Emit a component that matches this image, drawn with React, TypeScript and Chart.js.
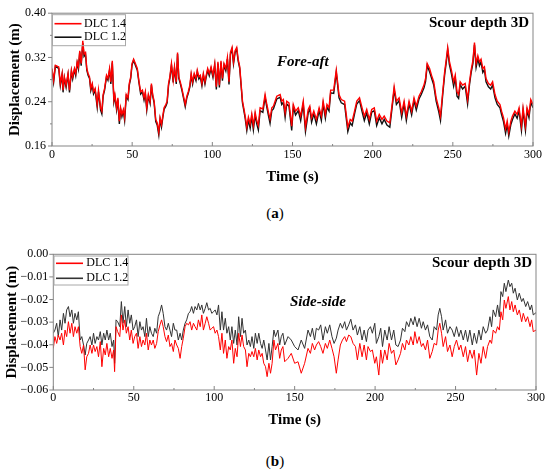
import { useEffect, useRef } from "react";
import { Chart, registerables } from "chart.js";

Chart.register(...registerables);

const serif = "'Liberation Serif', 'Times New Roman', serif";
Chart.defaults.font.family = serif;
Chart.defaults.color = "#000";

// ---------- data ----------
const seriesNames = ["DLC 1.4", "DLC 1.2"];
const timeTicks = [0, 50, 100, 150, 200, 250, 300];
const foreTicks = [0.16, 0.24, 0.32, 0.4];
const sideTicks = [-0.06, -0.05, -0.04, -0.03, -0.02, -0.01, 0];

// (a) fore-aft
const foreTime = [
  0, 1.0, 2.1, 4.2, 5.2, 6.3, 6.9, 7.7, 8.8, 10.0,
  10.9, 12.1, 12.9, 14.0, 14.8, 15.7, 16.5, 17.3, 18.2, 19.2,
  20.0, 20.9, 21.7, 22.5, 23.4, 24.2, 25.1, 25.9, 26.9, 28.2,
  29.0, 30.3, 31.1, 31.9, 32.8, 34.0, 34.9, 35.9, 36.7, 37.6,
  38.6, 39.2, 40.3, 41.1, 42.0, 42.8, 43.6, 44.5, 45.3, 46.3,
  47.4, 48.2, 49.1, 49.9, 50.9, 52.0, 53.2, 54.3, 55.3, 56.4,
  57.4, 58.2, 59.1, 60.1, 61.2, 62.0, 62.8, 63.7, 64.7, 65.6,
  66.6, 67.4, 68.3, 69.1, 69.9, 71.0, 71.8, 72.7, 73.5, 74.5,
  75.6, 76.4, 77.5, 78.3, 79.1, 80.0, 81.0, 82.0, 83.1, 84.1,
  85.0, 86.0, 86.8, 87.7, 88.7, 89.8, 90.6, 91.6, 92.5, 93.5,
  94.4, 95.4, 96.2, 97.1, 98.1, 99.2, 100.4, 101.5, 102.5, 103.5,
  104.4, 105.4, 106.3, 107.3, 108.4, 109.4, 110.4, 111.3, 112.3, 113.2,
  114.2, 115.2, 116.1, 117.1, 118.0, 118.8, 119.6, 120.5, 121.5,
  122.5, 123.6, 124.6, 125.6, 126.7, 127.7, 128.7, 129.8, 131.5, 132.9,
  134.0, 135.0, 136.0, 137.1, 138.1,
  140.2, 142.3, 143.3, 144.3, 145.4, 146.4, 147.8, 149.5, 150.5, 151.9,
  153.6, 155.1, 156.7, 158.1, 159.8, 160.8, 161.9, 163.3, 164.9, 166.6,
  168.0, 169.1, 170.5, 171.5, 172.8, 173.8, 175.7, 177.3, 179.0, 180.4,
  182.5, 184.5, 186.0, 187.2, 188.7, 190.1, 191.8, 193.4, 194.8, 196.3,
  197.9, 199.4, 201.0, 202.5, 204.1, 205.8, 207.2, 208.9, 210.7, 212.4,
  213.4, 214.8, 216.5, 218.1, 219.6, 221.0, 222.7, 224.3, 225.8, 227.2,
  228.9, 230.3, 232.0, 233.0, 234.0, 235.5, 236.7, 238.1, 239.6, 241.2,
  242.3, 243.7, 244.9, 245.8, 246.8, 247.8, 249.1, 250.5, 251.5, 252.6,
  253.6, 254.6, 256.1, 257.7, 259.2, 260.4, 261.4, 262.5, 263.5, 264.5,
  265.6, 266.6, 267.6, 268.7, 269.7, 270.7, 272.2, 273.6, 274.8, 276.3,
  277.7, 279.4, 280.4, 281.6, 282.9, 283.9, 284.9, 286.2, 287.2, 288.7,
  290.1, 291.3, 292.8, 293.8, 295.3, 296.3, 297.5, 298.6, 300,
];

const foreDlc14 = [
  0.300, 0.279, 0.306, 0.303, 0.273, 0.291, 0.261, 0.285, 0.270, 0.291,
  0.261, 0.297, 0.285, 0.300, 0.291, 0.312, 0.303, 0.332, 0.309, 0.350,
  0.326, 0.329, 0.300, 0.291, 0.285, 0.264, 0.273, 0.258, 0.264, 0.235,
  0.261, 0.229, 0.223, 0.253, 0.264, 0.288, 0.282, 0.300, 0.276, 0.314,
  0.244, 0.253, 0.229, 0.247, 0.205, 0.229, 0.217, 0.226, 0.211, 0.253,
  0.247, 0.273, 0.285, 0.309, 0.317, 0.309, 0.300, 0.276, 0.258, 0.261,
  0.247, 0.258, 0.229, 0.253, 0.241, 0.273, 0.253, 0.241, 0.208, 0.202,
  0.185, 0.211, 0.199, 0.214, 0.229, 0.235, 0.241, 0.273, 0.285, 0.309,
  0.279, 0.303, 0.276, 0.329, 0.285, 0.276, 0.264, 0.250, 0.235, 0.250,
  0.258, 0.270, 0.291, 0.276, 0.291, 0.282, 0.297, 0.285, 0.288, 0.273,
  0.291, 0.276, 0.288, 0.300, 0.291, 0.303, 0.288, 0.309, 0.267, 0.312,
  0.270, 0.314, 0.282, 0.309, 0.300, 0.320, 0.276, 0.329, 0.338, 0.312,
  0.332, 0.338, 0.317, 0.303, 0.270, 0.241, 0.229, 0.214, 0.194,
  0.212, 0.200, 0.218, 0.197, 0.221, 0.206, 0.197, 0.229, 0.227, 0.253,
  0.235, 0.221, 0.209, 0.229, 0.232,
  0.250, 0.253, 0.241, 0.244, 0.220, 0.241, 0.238, 0.196, 0.235, 0.223,
  0.229, 0.214, 0.241, 0.194, 0.226, 0.232, 0.211, 0.223, 0.208, 0.229,
  0.214, 0.241, 0.217, 0.235, 0.229, 0.261, 0.261, 0.297, 0.253, 0.244,
  0.241, 0.194, 0.208, 0.205, 0.223, 0.241, 0.247, 0.229, 0.214, 0.226,
  0.208, 0.226, 0.229, 0.205, 0.217, 0.208, 0.214, 0.205, 0.202, 0.241,
  0.267, 0.241, 0.247, 0.220, 0.241, 0.214, 0.241, 0.223, 0.247, 0.232,
  0.250, 0.258, 0.270, 0.282, 0.309, 0.300, 0.288, 0.276, 0.247, 0.229,
  0.214, 0.258, 0.294, 0.314, 0.338, 0.314, 0.297, 0.276, 0.288, 0.258,
  0.253, 0.276, 0.270, 0.273, 0.244, 0.276, 0.297, 0.314, 0.347, 0.309,
  0.323, 0.312, 0.317, 0.300, 0.303, 0.282, 0.273, 0.270, 0.276, 0.253,
  0.241, 0.235, 0.223, 0.211, 0.191, 0.205, 0.185, 0.205, 0.214, 0.223,
  0.217, 0.229, 0.196, 0.229, 0.196, 0.229, 0.217, 0.244, 0.235,
];

const foreDlc12 = [
  0.297, 0.275, 0.304, 0.300, 0.269, 0.289, 0.257, 0.283, 0.266, 0.289,
  0.257, 0.295, 0.281, 0.298, 0.287, 0.310, 0.299, 0.330, 0.305, 0.346,
  0.322, 0.326, 0.297, 0.288, 0.282, 0.260, 0.270, 0.254, 0.261, 0.230,
  0.258, 0.225, 0.218, 0.250, 0.261, 0.285, 0.279, 0.297, 0.272, 0.311,
  0.240, 0.250, 0.225, 0.244, 0.200, 0.226, 0.213, 0.223, 0.206, 0.250,
  0.244, 0.270, 0.282, 0.306, 0.315, 0.306, 0.297, 0.273, 0.254, 0.258,
  0.243, 0.255, 0.225, 0.250, 0.237, 0.270, 0.250, 0.238, 0.204, 0.198,
  0.180, 0.208, 0.194, 0.211, 0.226, 0.232, 0.238, 0.270, 0.282, 0.306,
  0.275, 0.300, 0.272, 0.326, 0.282, 0.273, 0.261, 0.247, 0.231, 0.247,
  0.255, 0.267, 0.288, 0.272, 0.288, 0.278, 0.294, 0.281, 0.285, 0.269,
  0.288, 0.272, 0.285, 0.297, 0.287, 0.300, 0.284, 0.306, 0.262, 0.309,
  0.266, 0.311, 0.278, 0.306, 0.296, 0.317, 0.271, 0.326, 0.335, 0.308,
  0.329, 0.335, 0.314, 0.300, 0.267, 0.238, 0.225, 0.210, 0.188,
  0.207, 0.192, 0.213, 0.189, 0.216, 0.200, 0.189, 0.224, 0.221, 0.248,
  0.230, 0.215, 0.201, 0.224, 0.227,
  0.245, 0.248, 0.235, 0.239, 0.212, 0.236, 0.232, 0.188, 0.230, 0.216,
  0.224, 0.206, 0.236, 0.186, 0.220, 0.227, 0.203, 0.218, 0.200, 0.224,
  0.206, 0.236, 0.210, 0.230, 0.223, 0.256, 0.255, 0.293, 0.247, 0.238,
  0.235, 0.186, 0.202, 0.197, 0.218, 0.236, 0.242, 0.222, 0.206, 0.220,
  0.200, 0.221, 0.224, 0.197, 0.211, 0.200, 0.208, 0.198, 0.194, 0.236,
  0.262, 0.235, 0.242, 0.212, 0.236, 0.206, 0.236, 0.216, 0.242, 0.225,
  0.245, 0.253, 0.265, 0.277, 0.305, 0.294, 0.283, 0.270, 0.241, 0.222,
  0.206, 0.253, 0.289, 0.309, 0.334, 0.308, 0.291, 0.268, 0.283, 0.250,
  0.246, 0.271, 0.263, 0.268, 0.236, 0.271, 0.292, 0.309, 0.343, 0.302,
  0.318, 0.305, 0.312, 0.293, 0.298, 0.276, 0.267, 0.263, 0.270, 0.247,
  0.235, 0.229, 0.217, 0.204, 0.183, 0.199, 0.178, 0.199, 0.208, 0.218,
  0.210, 0.224, 0.188, 0.224, 0.188, 0.224, 0.211, 0.239, 0.229,
];

// (b) side-side
const sideTime = [
  0, 1.0, 2.1, 3.1, 4.2, 5.2, 6.3, 7.3, 8.3, 9.4,
  10.4, 11.5, 12.5, 13.5, 14.6, 15.6, 16.7, 17.7, 18.8, 19.8,
  20.8, 21.9, 22.9, 24.0, 25.0, 26.0, 27.1, 28.1, 29.2, 30.2,
  31.3, 32.3, 33.3, 34.4, 35.4, 36.5, 37.5, 38.1, 39.0, 40.0,
  41.3, 42.3, 43.3, 44.4, 45.4, 46.5, 47.5, 48.5, 49.6, 50.6,
  51.7, 52.7, 53.8, 54.8, 55.8, 56.9, 57.9, 59.0, 60.0, 61.0,
  62.1, 63.1, 64.2, 65.2, 66.3, 67.3, 68.3, 69.4, 70.4, 71.5,
  72.5, 73.5, 74.6, 75.6, 76.7, 77.7, 78.8, 79.8, 80.8, 81.9,
  82.9, 84.0, 85.0, 86.0, 87.1, 88.1, 89.2, 90.2, 91.3, 92.3,
  93.3, 94.4, 95.4, 96.5, 97.5, 98.5, 99.6, 100.6, 101.7, 102.7,
  103.8, 104.8, 105.8, 106.9, 107.9, 109.0, 110.0, 111.0, 112.1, 113.1,
  114.2, 115.2, 116.3, 117.3, 118.3, 119.4, 120.4, 121.5, 122.5, 123.5,
  124.6, 125.6, 126.7, 127.7, 128.8, 129.8, 130.8, 131.9, 132.9, 134.0,
  135.0, 136.0, 137.1, 138.1,
  139.6, 140.7, 141.7, 142.7, 143.8, 145.9, 147.9, 150.0, 152.1, 154.1,
  156.2, 158.3, 159.8, 161.0, 162.4, 163.5, 164.9, 166.2, 167.6, 169.1,
  170.3, 171.8, 173.2, 174.5, 175.9, 177.0, 178.4, 179.7, 181.1, 182.2,
  183.6, 184.9, 186.3, 187.8, 189.0, 190.5, 191.9, 193.2, 194.6, 195.6,
  197.1, 198.3, 199.8, 200.8, 202.3, 203.5, 204.6, 206.0, 207.5, 208.7,
  210.2, 211.6, 212.9, 214.3, 215.8, 217.0, 218.5, 219.5, 221.0, 222.2,
  223.7, 224.7, 226.1, 227.4, 228.8, 229.9, 231.3, 232.6, 234.0, 235.5,
  236.7, 238.2, 239.2, 240.2, 241.3, 242.3, 243.8, 245.0, 246.5, 247.9,
  249.2, 250.6, 252.1, 253.3, 254.8, 256.2, 257.5, 258.9, 260.4, 261.6,
  263.1, 264.5, 265.8, 267.2, 268.7, 269.9, 271.4, 272.4, 273.4, 274.9,
  276.1, 277.2, 278.2, 279.3, 280.3, 281.3, 282.8, 283.8, 284.9, 285.9,
  287.0, 288.4, 289.6, 291.1, 292.1, 293.6, 294.8, 296.3, 297.3, 298.3, 300,
];

const sideDlc14 = [
  -0.0416, -0.0364, -0.0394, -0.0357, -0.0379, -0.0349, -0.0401, -0.0335, -0.0364, -0.0298,
  -0.0349, -0.0305, -0.0364, -0.0320, -0.0349, -0.0320, -0.0408, -0.0438, -0.0401, -0.0511,
  -0.0453, -0.0438, -0.0401, -0.0438, -0.0401, -0.0430, -0.0408, -0.0453, -0.0386, -0.0497,
  -0.0416, -0.0445, -0.0394, -0.0453, -0.0416, -0.0460, -0.0423, -0.0519, -0.0320, -0.0342,
  -0.0364, -0.0268, -0.0335, -0.0290, -0.0349, -0.0320, -0.0379, -0.0335, -0.0394, -0.0364,
  -0.0349, -0.0416, -0.0364, -0.0408, -0.0379, -0.0401, -0.0349, -0.0423, -0.0379, -0.0401,
  -0.0379, -0.0416, -0.0394, -0.0342, -0.0312, -0.0290, -0.0320, -0.0364, -0.0386, -0.0357,
  -0.0408, -0.0394, -0.0430, -0.0379, -0.0401, -0.0416, -0.0460, -0.0408, -0.0371, -0.0320,
  -0.0305, -0.0312, -0.0298, -0.0335, -0.0305, -0.0320, -0.0335, -0.0290, -0.0320, -0.0268,
  -0.0335, -0.0305, -0.0276, -0.0305, -0.0335, -0.0327, -0.0320, -0.0349, -0.0335, -0.0364,
  -0.0423, -0.0349, -0.0438, -0.0379, -0.0460, -0.0408, -0.0423, -0.0379, -0.0482, -0.0416,
  -0.0453, -0.0349, -0.0408, -0.0357, -0.0408, -0.0423, -0.0497, -0.0438, -0.0453, -0.0430,
  -0.0453, -0.0416, -0.0467, -0.0423, -0.0453, -0.0438, -0.0482, -0.0497, -0.0541, -0.0482,
  -0.0526, -0.0482, -0.0379, -0.0423,
  -0.0394, -0.0460, -0.0423, -0.0408, -0.0475, -0.0460, -0.0438, -0.0482, -0.0475, -0.0526,
  -0.0482, -0.0416, -0.0438, -0.0394, -0.0423, -0.0401, -0.0386, -0.0408, -0.0438, -0.0394,
  -0.0416, -0.0379, -0.0416, -0.0453, -0.0526, -0.0467, -0.0401, -0.0379, -0.0364, -0.0386,
  -0.0357, -0.0364, -0.0394, -0.0408, -0.0467, -0.0394, -0.0453, -0.0401, -0.0467, -0.0408,
  -0.0430, -0.0423, -0.0482, -0.0453, -0.0534, -0.0423, -0.0482, -0.0423, -0.0467, -0.0394,
  -0.0438, -0.0423, -0.0489, -0.0467, -0.0438, -0.0394, -0.0423, -0.0379, -0.0401, -0.0364,
  -0.0401, -0.0342, -0.0394, -0.0364, -0.0408, -0.0394, -0.0423, -0.0379, -0.0460, -0.0430,
  -0.0394, -0.0401, -0.0335, -0.0305, -0.0349, -0.0408, -0.0364, -0.0430, -0.0401, -0.0453,
  -0.0408, -0.0379, -0.0423, -0.0401, -0.0453, -0.0408, -0.0475, -0.0423, -0.0460, -0.0423,
  -0.0534, -0.0438, -0.0482, -0.0408, -0.0460, -0.0408, -0.0379, -0.0394, -0.0335, -0.0349,
  -0.0320, -0.0335, -0.0254, -0.0290, -0.0202, -0.0239, -0.0187, -0.0246, -0.0209, -0.0254,
  -0.0224, -0.0268, -0.0246, -0.0298, -0.0261, -0.0298, -0.0276, -0.0320, -0.0290, -0.0342, -0.0335,
];

const sideDlc12 = [
  -0.0349, -0.0335, -0.0305, -0.0364, -0.0290, -0.0335, -0.0261, -0.0305, -0.0246, -0.0231,
  -0.0276, -0.0246, -0.0305, -0.0261, -0.0290, -0.0254, -0.0379, -0.0364, -0.0401, -0.0445,
  -0.0394, -0.0379, -0.0364, -0.0401, -0.0349, -0.0394, -0.0364, -0.0379, -0.0342, -0.0401,
  -0.0349, -0.0379, -0.0335, -0.0379, -0.0349, -0.0408, -0.0379, -0.0482, -0.0290, -0.0298,
  -0.0320, -0.0209, -0.0305, -0.0231, -0.0320, -0.0246, -0.0305, -0.0268, -0.0335, -0.0320,
  -0.0290, -0.0364, -0.0298, -0.0335, -0.0320, -0.0364, -0.0283, -0.0364, -0.0320, -0.0349,
  -0.0364, -0.0327, -0.0349, -0.0276, -0.0254, -0.0224, -0.0261, -0.0320, -0.0335, -0.0305,
  -0.0335, -0.0364, -0.0305, -0.0335, -0.0335, -0.0379, -0.0349, -0.0379, -0.0335, -0.0305,
  -0.0290, -0.0261, -0.0254, -0.0231, -0.0261, -0.0231, -0.0246, -0.0217, -0.0246, -0.0224,
  -0.0261, -0.0239, -0.0214, -0.0246, -0.0239, -0.0261, -0.0254, -0.0246, -0.0268, -0.0224,
  -0.0335, -0.0254, -0.0335, -0.0283, -0.0349, -0.0320, -0.0379, -0.0320, -0.0394, -0.0335,
  -0.0401, -0.0276, -0.0364, -0.0283, -0.0349, -0.0335, -0.0401, -0.0379, -0.0408, -0.0364,
  -0.0416, -0.0349, -0.0394, -0.0349, -0.0394, -0.0416, -0.0379, -0.0423, -0.0467, -0.0394,
  -0.0467, -0.0408, -0.0335, -0.0364,
  -0.0335, -0.0401, -0.0364, -0.0349, -0.0401, -0.0364, -0.0379, -0.0408, -0.0423, -0.0379,
  -0.0416, -0.0335, -0.0364, -0.0327, -0.0379, -0.0327, -0.0335, -0.0312, -0.0379, -0.0320,
  -0.0349, -0.0312, -0.0364, -0.0394, -0.0371, -0.0335, -0.0305, -0.0327, -0.0298, -0.0335,
  -0.0312, -0.0287, -0.0335, -0.0312, -0.0357, -0.0320, -0.0379, -0.0335, -0.0386, -0.0335,
  -0.0320, -0.0349, -0.0305, -0.0394, -0.0364, -0.0327, -0.0408, -0.0335, -0.0379, -0.0320,
  -0.0379, -0.0335, -0.0401, -0.0408, -0.0379, -0.0327, -0.0342, -0.0298, -0.0320, -0.0283,
  -0.0312, -0.0276, -0.0320, -0.0283, -0.0327, -0.0298, -0.0335, -0.0312, -0.0364, -0.0379,
  -0.0320, -0.0335, -0.0268, -0.0239, -0.0276, -0.0335, -0.0290, -0.0349, -0.0320, -0.0335,
  -0.0364, -0.0320, -0.0364, -0.0335, -0.0379, -0.0335, -0.0386, -0.0335, -0.0401, -0.0349,
  -0.0394, -0.0335, -0.0379, -0.0320, -0.0349, -0.0335, -0.0276, -0.0320, -0.0246, -0.0276,
  -0.0224, -0.0276, -0.0165, -0.0187, -0.0128, -0.0165, -0.0114, -0.0143, -0.0128, -0.0172,
  -0.0150, -0.0202, -0.0172, -0.0209, -0.0195, -0.0231, -0.0209, -0.0246, -0.0224, -0.0268, -0.0258,
];

// ---------- drawing helpers ----------
const tickText = (v: number) => v.toFixed(2).replace("-", "\u2212");

const decorPlugin = {
  id: "decor",
  afterDraw(chart: any, _args: any, opts: any) {
    const { ctx, chartArea: a } = chart;
    const xs = chart.scales.x;
    const ys = chart.scales.y;
    const seg = (x1: number, y1: number, x2: number, y2: number) => {
      ctx.beginPath();
      ctx.moveTo(x1, y1);
      ctx.lineTo(x2, y2);
      ctx.stroke();
    };
    ctx.save();
    ctx.lineWidth = 1;
    ctx.strokeStyle = "#858585";
    ctx.strokeRect(a.left, a.top, a.right - a.left, a.bottom - a.top);

    // x ticks point inwards, y ticks outwards
    timeTicks.forEach((t, i) => {
      const px = xs.getPixelForValue(t);
      seg(px, a.bottom, px, a.bottom - 4);
      if (i > 0) {
        const m = xs.getPixelForValue((t + timeTicks[i - 1]) / 2);
        seg(m, a.bottom, m, a.bottom - 2);
      }
    });
    const yt: number[] = opts.yTicks;
    yt.forEach((v, i) => {
      const py = ys.getPixelForValue(v);
      seg(a.left, py, a.left - 4, py);
      if (opts.yMinor && i > 0) {
        const m = ys.getPixelForValue((v + yt[i - 1]) / 2);
        seg(a.left, m, a.left - 2, m);
      }
    });

    // legend box
    const lg = opts.legend;
    ctx.strokeStyle = "#a8a8a8";
    ctx.strokeRect(a.left + lg.x, a.top + lg.y, lg.w, lg.h);
    ctx.font = `12px ${serif}`;
    ctx.textBaseline = "middle";
    ctx.textAlign = "left";
    chart.data.datasets.forEach((ds: any, i: number) => {
      const ly = a.top + lg.rows[i];
      ctx.strokeStyle = ds.borderColor;
      ctx.lineWidth = 1.6;
      seg(a.left + lg.x + 2, ly, a.left + lg.x + 29, ly);
      ctx.fillStyle = "#000";
      ctx.fillText(ds.label, a.left + lg.textX, ly);
    });

    // labels
    ctx.fillStyle = "#000";
    ctx.font = `bold 15px ${serif}`;
    ctx.textAlign = "right";
    ctx.fillText(opts.corner, a.right - 4, a.top + opts.cornerY);
    ctx.font = `italic bold 15px ${serif}`;
    ctx.textAlign = "left";
    ctx.fillText(opts.note, opts.noteX, opts.noteY);
    ctx.restore();
  },
};

type PanelSpec = {
  time: number[];
  red: number[];
  black: number[];
  blackColor: string;
  lineWidth: number;
  yMin: number;
  yMax: number;
  yTicks: number[];
  yMinor: boolean;
  padTop: number;
  padRight: number;
  yWidth: number;
  xHeight: number;
  yTickPad: number;
  yTitlePad: number;
  xTickPad: number;
  xTitlePad: number;
  legend: { x: number; y: number; w: number; h: number; rows: number[]; textX: number };
  cornerY: number;
  note: string;
  noteX: number;
  noteY: number;
};

function buildConfig(p: PanelSpec): any {
  const pts = (vals: number[]) => p.time.map((t, i) => ({ x: t, y: vals[i] }));
  return {
    type: "line",
    data: {
      datasets: [
        {
          label: seriesNames[0],
          data: pts(p.red),
          borderColor: "#ff0000",
          borderWidth: p.lineWidth,
          pointRadius: 0,
          tension: 0,
        },
        {
          label: seriesNames[1],
          data: pts(p.black),
          borderColor: p.blackColor,
          borderWidth: p.lineWidth,
          pointRadius: 0,
          tension: 0,
        },
      ],
    },
    options: {
      responsive: false,
      animation: false,
      events: [],
      layout: { padding: { top: p.padTop, right: p.padRight, left: 0, bottom: 0 } },
      plugins: {
        legend: { display: false },
        tooltip: { enabled: false },
        decor: {
          yTicks: p.yTicks,
          yMinor: p.yMinor,
          legend: p.legend,
          corner: "Scour depth 3D",
          cornerY: p.cornerY,
          note: p.note,
          noteX: p.noteX,
          noteY: p.noteY,
        },
      },
      scales: {
        x: {
          type: "linear",
          min: 0,
          max: 300,
          grid: { display: false, drawTicks: false },
          border: { display: false },
          ticks: {
            padding: p.xTickPad,
            maxRotation: 0,
            autoSkip: false,
            font: { size: 12 },
            callback: (v: number) => String(v),
          },
          title: {
            display: true,
            text: "Time (s)",
            font: { size: 15, weight: "bold" },
            padding: { top: 0, bottom: p.xTitlePad },
          },
          afterBuildTicks: (s: any) => {
            s.ticks = timeTicks.map((v) => ({ value: v }));
          },
          afterFit: (s: any) => {
            s.height = p.xHeight;
          },
        },
        y: {
          type: "linear",
          min: p.yMin,
          max: p.yMax,
          grid: { display: false, drawTicks: false },
          border: { display: false },
          ticks: {
            padding: p.yTickPad,
            autoSkip: false,
            font: { size: 12 },
            callback: (v: number) => tickText(v),
          },
          title: {
            display: true,
            text: "Displacement (m)",
            font: { size: 15, weight: "bold" },
            padding: { top: p.yTitlePad, bottom: 0 },
          },
          afterBuildTicks: (s: any) => {
            s.ticks = p.yTicks.map((v) => ({ value: v }));
          },
          afterFit: (s: any) => {
            s.width = p.yWidth;
          },
        },
      },
    },
    plugins: [decorPlugin],
  };
}

const foreSpec: PanelSpec = {
  time: foreTime,
  red: foreDlc14,
  black: foreDlc12,
  blackColor: "#111111",
  lineWidth: 1.4,
  yMin: 0.16,
  yMax: 0.4,
  yTicks: foreTicks,
  yMinor: true,
  padTop: 10,
  padRight: 17,
  yWidth: 52,
  xHeight: 54,
  yTickPad: 6,
  yTitlePad: 6.5,
  xTickPad: 2,
  xTitlePad: 14,
  legend: { x: 0.5, y: 1.5, w: 73, h: 31, rows: [10.5, 24], textX: 32 },
  cornerY: 10,
  note: "Fore-aft",
  noteX: 277,
  noteY: 62,
};

const sideSpec: PanelSpec = {
  time: sideTime,
  red: sideDlc14,
  black: sideDlc12,
  blackColor: "#333333",
  lineWidth: 1,
  yMin: -0.06,
  yMax: 0,
  yTicks: sideTicks,
  yMinor: false,
  padTop: 14.3,
  padRight: 14,
  yWidth: 53.3,
  xHeight: 50,
  yTickPad: 5,
  yTitlePad: 3,
  xTickPad: 1,
  xTitlePad: 11,
  legend: { x: 0.7, y: 1.7, w: 74, h: 29, rows: [9, 24], textX: 33 },
  cornerY: 9,
  note: "Side-side",
  noteX: 290,
  noteY: 61.7,
};

function Panel({ spec, top, height }: { spec: PanelSpec; top: number; height: number }) {
  const canvasRef = useRef<HTMLCanvasElement>(null);

  useEffect(() => {
    if (!canvasRef.current) return;
    const chart = new Chart(canvasRef.current, buildConfig(spec));
    return () => chart.destroy();
  }, [spec]);

  return (
    <canvas
      ref={canvasRef}
      width={550}
      height={height}
      style={{ position: "absolute", left: 0, top, width: 550, height, display: "block" }}
    />
  );
}

const captionStyle = {
  position: "absolute" as const,
  left: 0,
  width: 550,
  textAlign: "center" as const,
  fontFamily: serif,
  fontSize: 15,
  lineHeight: "18px",
  color: "#000",
};

export default function App() {
  return (
    <div
      style={{
        position: "absolute",
        left: 0,
        top: 0,
        width: 550,
        height: 475,
        background: "#fff",
        overflow: "hidden",
      }}
    >
      <Panel spec={foreSpec} top={0} height={200} />
      <div style={{ ...captionStyle, top: 204 }}>
        (<b>a</b>)
      </div>
      <Panel spec={sideSpec} top={240} height={200} />
      <div style={{ ...captionStyle, top: 452 }}>
        (<b>b</b>)
      </div>
    </div>
  );
}
